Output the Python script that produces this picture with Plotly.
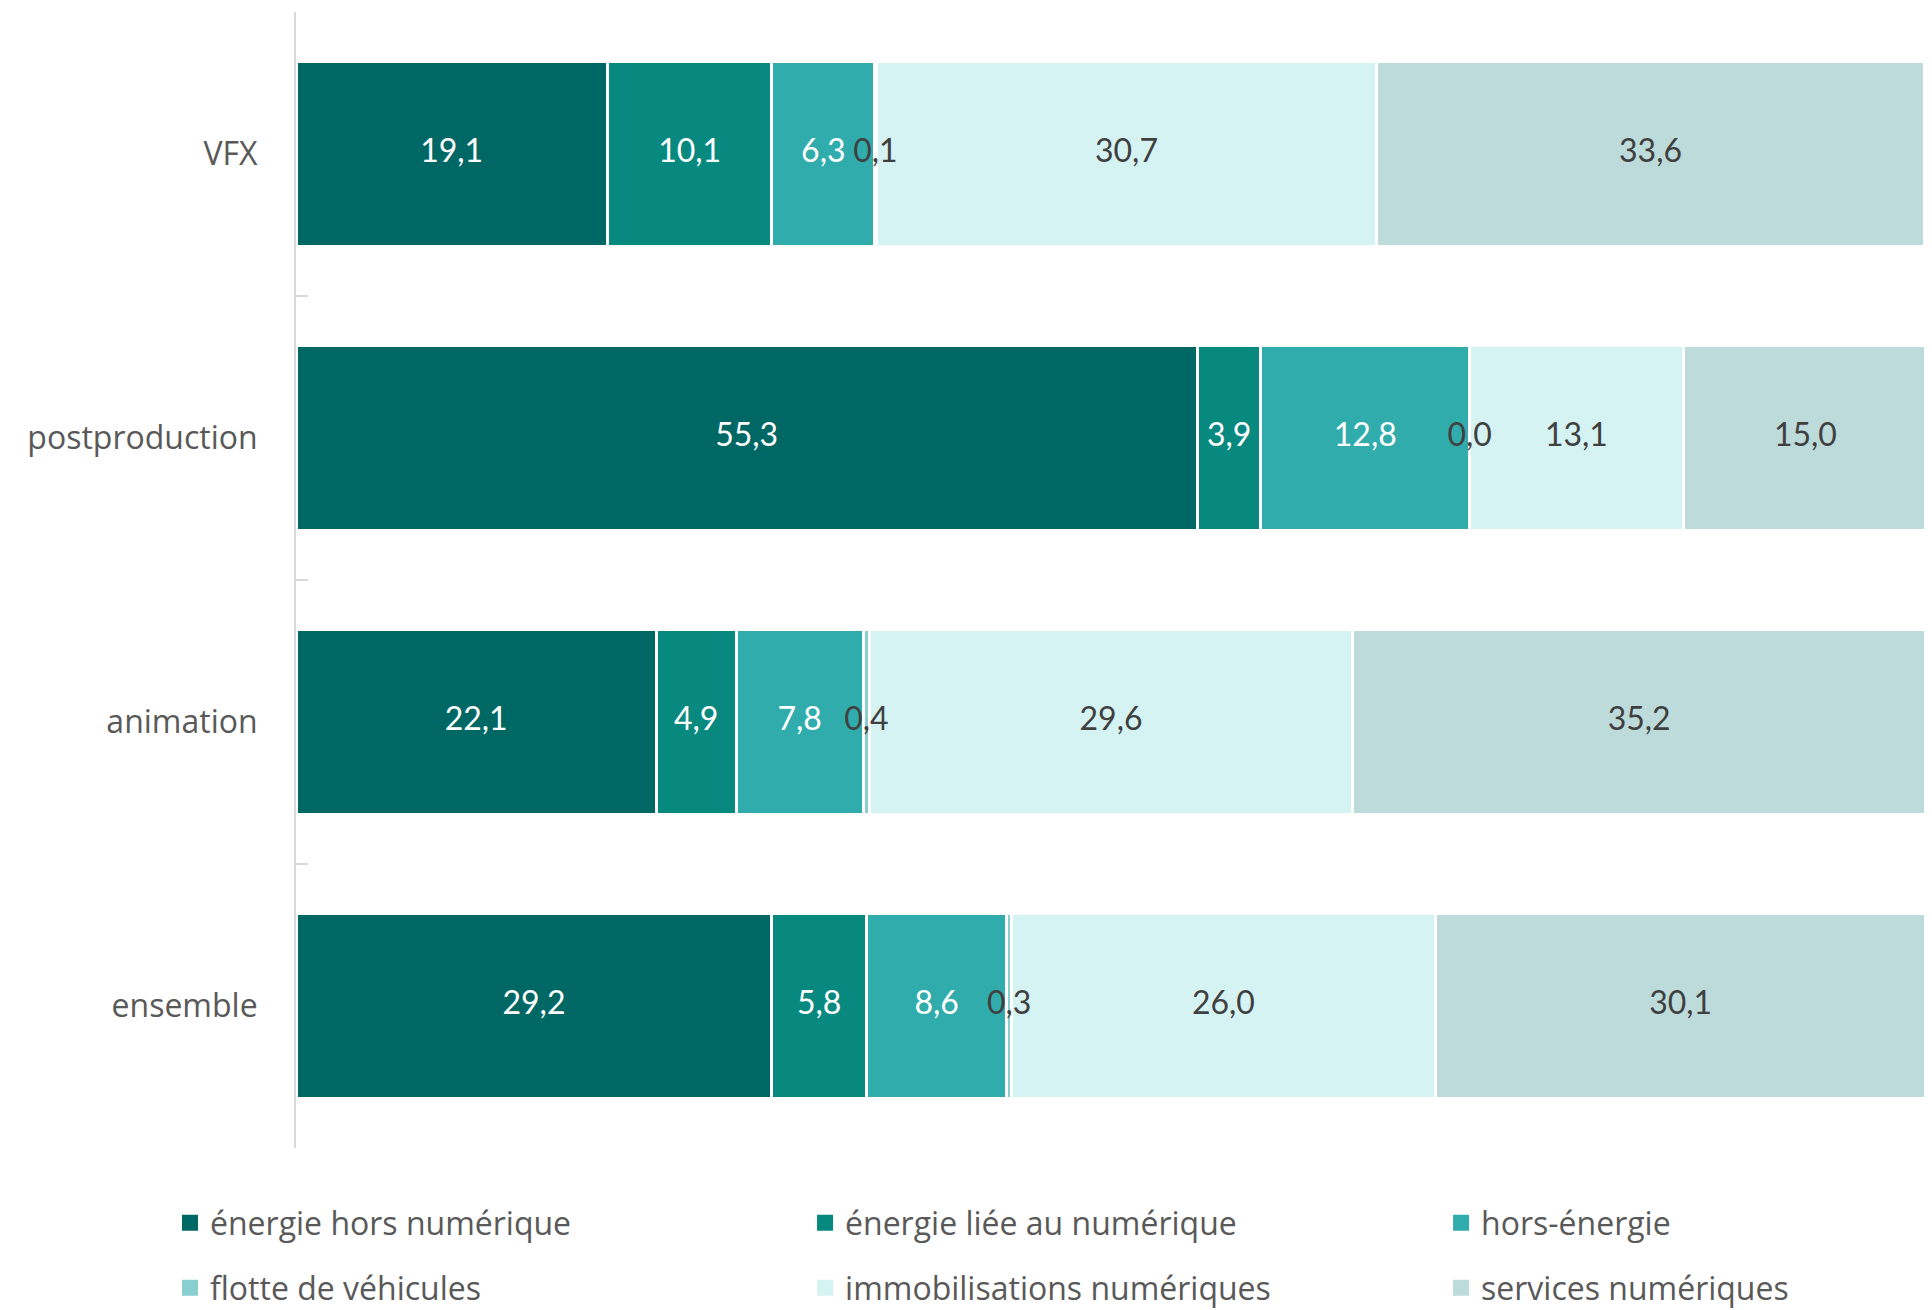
import plotly.graph_objects as go

categories = ["VFX", "postproduction", "animation", "ensemble"]
series_names = [
    "énergie hors numérique",
    "énergie liée au numérique",
    "hors-énergie",
    "flotte de véhicules",
    "immobilisations numériques",
    "services numériques",
]
energie_hors_num = [19.1, 55.3, 22.1, 29.2]
energie_num = [10.1, 3.9, 4.9, 5.8]
hors_energie = [6.3, 12.8, 7.8, 8.6]
flotte = [0.1, 0.0, 0.4, 0.3]
immobilisations = [30.7, 13.1, 29.6, 26.0]
services = [33.6, 15.0, 35.2, 30.1]

colors = ["#006864", "#078980", "#31ACAC", "#8ACFCF", "#D6F3F3", "#BDDBDB"]
text_colors = ["#FFFFFF", "#FFFFFF", "#FFFFFF", "#404040", "#404040", "#404040"]

# legend placement (paper coords): three columns, two rows
legend_cols = [-0.0773, 0.3123, 0.7025]
legend_rows = [-0.066, -0.1232]

all_values = [energie_hors_num, energie_num, hors_energie, flotte, immobilisations, services]

fig = go.Figure()
for name, vals, col in zip(series_names, all_values, colors):
    fig.add_trace(go.Bar(
        y=categories, x=vals, name=name, orientation="h",
        marker=dict(color=col, line=dict(color="white", width=3)),
        showlegend=False,
        hoverinfo="x+name",
    ))

# data labels centred on each segment
starts = [0.0] * len(categories)
for vals, tcol in zip(all_values, text_colors):
    mids = [s + v / 2 for s, v in zip(starts, vals)]
    fig.add_trace(go.Scatter(
        x=mids, y=categories, mode="text",
        text=[f"{v:.1f}".replace(".", ",") for v in vals],
        textposition="middle center",
        textfont=dict(color=tcol, size=32, family="Lato"),
        showlegend=False, hoverinfo="skip", cliponaxis=False,
    ))
    starts = [s + v for s, v in zip(starts, vals)]

# legend entries (square swatches)
layout_legends = {}
for i, (name, col) in enumerate(zip(series_names, colors)):
    lid = "legend" if i == 0 else f"legend{i + 1}"
    fig.add_trace(go.Scatter(
        x=[None], y=[None], mode="markers", name=name,
        marker=dict(symbol="square", size=16, color=col),
        legend=lid, showlegend=True, hoverinfo="skip",
    ))
    layout_legends[lid] = dict(
        orientation="h",
        x=legend_cols[i % 3], xanchor="left",
        y=legend_rows[i // 3], yanchor="middle",
        font=dict(size=32, color="#595959", family="Open Sans"),
        itemwidth=30, bgcolor="rgba(0,0,0,0)",
    )

fig.update_layout(
    barmode="stack",
    bargap=0.35,
    width=1924, height=1302,
    margin=dict(l=288, r=6, t=4, b=162, autoexpand=False),
    paper_bgcolor="white", plot_bgcolor="white",
    xaxis=dict(range=[0, 100], visible=False, showgrid=False, zeroline=False, automargin=False),
    yaxis=dict(
        autorange="reversed", showline=True, linecolor="#D9D9D9", linewidth=2,
        ticks="inside", tickson="boundaries", ticklen=12, tickcolor="#D9D9D9", tickwidth=2,
        tickfont=dict(size=32, color="#595959", family="Open Sans"),
        ticklabelstandoff=30, showgrid=False, automargin=False,
    ),
    **layout_legends,
)

fig.write_html("out.html")
